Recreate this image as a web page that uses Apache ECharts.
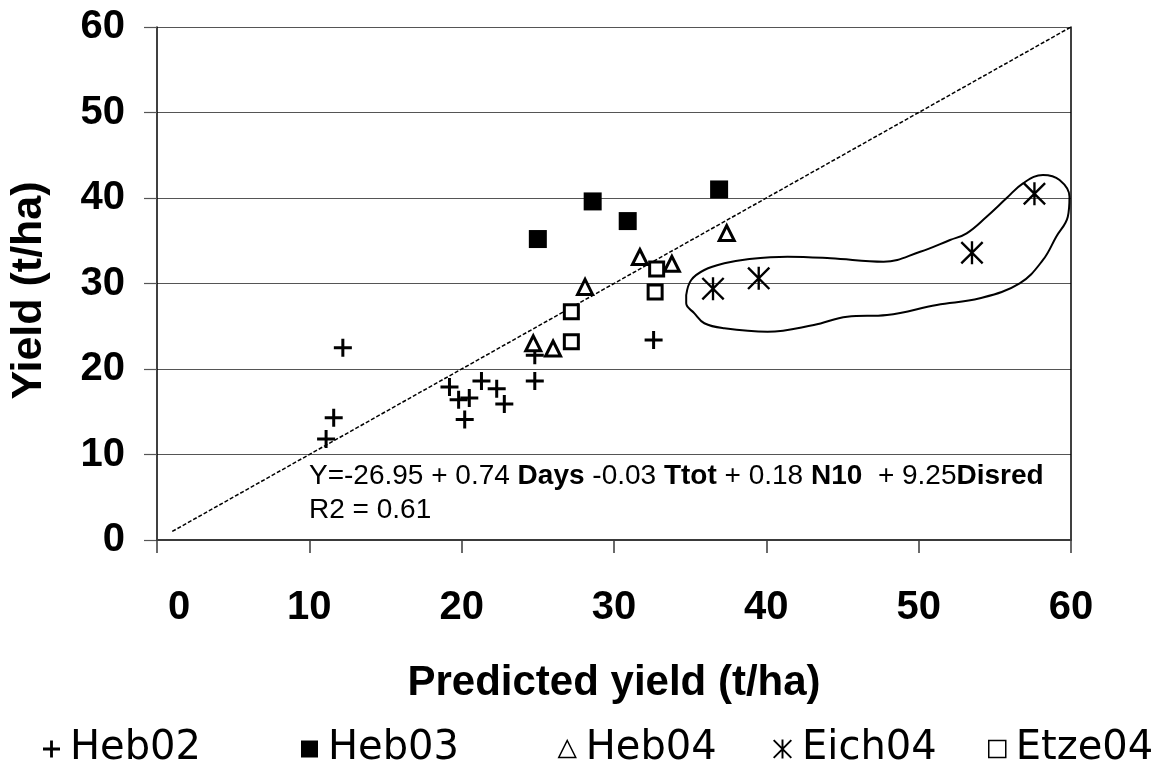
<!DOCTYPE html>
<html>
<head>
<meta charset="utf-8">
<style>
  html, body { margin: 0; padding: 0; background: #fff; }
  #chart { width: 1175px; height: 762px; }
</style>
<script src="https://cdn.jsdelivr.net/npm/echarts@6/dist/echarts.min.js"></script>
</head>
<body>
<div id="chart"></div>
<script>
// Observed vs predicted yield [predicted, observed] per site/year
const heb02 = [[12.2, 22.5], [11.6, 14.3], [11.1, 11.8], [19.2, 17.9], [19.8, 16.4], [20.5, 16.6],
               [20.2, 14.1], [21.3, 18.6], [22.3, 17.7], [22.8, 15.9], [24.8, 18.6], [24.8, 21.6], [32.6, 23.4]];
const heb03 = [[25.0, 35.2], [28.6, 39.6], [30.9, 37.3], [36.9, 41.0]];
const heb04 = [[24.7, 23.0], [26.0, 22.4], [28.1, 29.6], [31.7, 33.1], [33.8, 32.3], [37.4, 35.9]];
const eich04 = [[36.5, 29.4], [39.5, 30.6], [53.5, 33.6], [57.6, 40.5]];
const etze04 = [[27.2, 26.7], [27.2, 23.2], [32.8, 31.7], [32.7, 29.0]];

// 1:1 reference line
const oneToOne = [[1, 1], [60, 60]];

// Hand-drawn outline around the Eich04 group (data units)
const eichOutline = [
  [34.74, 28.65], [35.07, 30.41], [35.93, 31.58], [37.24, 32.36], [38.77, 32.83], [41.39, 33.13],
  [44.22, 32.95], [47.70, 32.55], [50.10, 33.72], [52.06, 35.09], [53.15, 35.87], [54.46, 37.81],
  [55.76, 39.96], [56.85, 41.72], [58.16, 42.69], [59.25, 42.11], [59.90, 40.15], [59.79, 37.81],
  [59.03, 35.47], [58.16, 32.75], [56.63, 30.02], [54.02, 28.27], [51.19, 27.49], [47.92, 26.32],
  [45.31, 26.12], [43.12, 25.15], [40.08, 24.36], [37.24, 24.76], [35.93, 25.35], [35.28, 26.51],
  [34.74, 27.68], [34.74, 28.65]
];

const axisTicks = [0, 10, 20, 30, 40, 50, 60];
const seriesNames = ['Heb02', 'Heb03', 'Heb04', 'Eich04', 'Etze04'];

const FONT = '"Liberation Sans", Arial, sans-serif';
const LEGEND_FONT = '"DejaVu Sans", "Liberation Sans", sans-serif';

const plusPath = 'path://M-1.5,-9L1.5,-9L1.5,-1.5L9,-1.5L9,1.5L1.5,1.5L1.5,9L-1.5,9L-1.5,1.5L-9,1.5L-9,-1.5L-1.5,-1.5Z';
const starPath = 'path://M-1.1,-10.78L1.1,-10.78L1.1,10.78L-1.1,10.78Z' +
  'M-9.22,-10.78L10.78,9.22L9.22,10.78L-10.78,-9.22Z' +
  'M-10.78,9.22L9.22,-10.78L10.78,-9.22L-9.22,10.78Z';

const solidStyle = { color: '#000', opacity: 1 };
const openStyle = { color: '#fff', borderColor: '#000', borderWidth: 3, opacity: 1 };

const legendLefts = [38, 296, 553, 768, 983];
const legendIcons = [plusPath, 'rect', 'triangle', starPath, 'rect'];
const legends = seriesNames.map((name, i) => ({
  left: legendLefts[i],
  top: 724,
  itemWidth: (i === 3) ? 19 : 17,
  itemHeight: (i === 3) ? 19 : 17,
  itemGap: 0,
  selectedMode: false,
  textStyle: { fontFamily: LEGEND_FONT, fontSize: 40, color: '#000', padding: [0, 0, 0, 5] },
  itemStyle: (i === 2 || i === 4)
    ? { color: '#fff', borderColor: '#000', borderWidth: 1.5, opacity: 1 }
    : { color: '#000', borderWidth: 0, opacity: 1 },
  data: [{ name: name, icon: legendIcons[i] }]
}));

const tickLabelStyle = { fontFamily: FONT, fontSize: 40, fontWeight: 'bold', color: '#000' };

const chart = echarts.init(document.getElementById('chart'), null, { renderer: 'canvas' });

chart.setOption({
  animation: false,
  backgroundColor: '#fff',
  textStyle: { fontFamily: FONT },
  grid: { left: 153.5, right: 104, top: 27, bottom: 222, containLabel: false },
  legend: legends,
  xAxis: {
    type: 'value', min: axisTicks[0], max: axisTicks[axisTicks.length - 1], interval: 10,
    name: 'Predicted yield (t/ha)', nameLocation: 'middle', nameGap: 122,
    nameTextStyle: { fontFamily: FONT, fontSize: 42, fontWeight: 'bold', color: '#000' },
    axisLine: { show: true, onZero: false, lineStyle: { color: '#3a3a3a', width: 2 } },
    axisTick: { show: true, inside: false, length: 13, lineStyle: { color: '#3a3a3a', width: 1.5 } },
    axisLabel: {
      margin: 48,
      formatter: v => (v === 0 ? '{z|0}' : String(v)),
      rich: { z: Object.assign({ padding: [0, 0, 0, 44] }, tickLabelStyle) },
      ...tickLabelStyle
    },
    splitLine: { show: false }
  },
  yAxis: [{
    type: 'value', min: axisTicks[0], max: axisTicks[axisTicks.length - 1], interval: 10,
    name: 'Yield (t/ha)', nameLocation: 'middle', nameGap: 106, nameRotate: 90,
    nameTextStyle: { fontFamily: FONT, fontSize: 43, fontWeight: 'bold', color: '#000', padding: [0, 14, 0, 0] },
    axisLine: { show: true, lineStyle: { color: '#000', width: 1.5 } },
    axisTick: { show: true, inside: false, length: 13, lineStyle: { color: '#555', width: 1.2 } },
    axisLabel: { margin: 32, ...tickLabelStyle },
    splitLine: { show: true, lineStyle: { color: '#555', width: 1.2 } }
  }, {
    type: 'value', min: 0, max: 60, position: 'right',
    axisLine: { show: true, lineStyle: { color: '#000', width: 1.5 } },
    axisTick: { show: false }, axisLabel: { show: false }, splitLine: { show: false }
  }],
  graphic: [{
    type: 'text',
    left: 309, top: 459,
    style: {
      text: 'Y=-26.95 + 0.74 {b|Days} -0.03 {b|Ttot} + 0.18 {b|N10}  + 9.25{b|Disred}\nR2 = 0.61',
      fontFamily: FONT, fontSize: 28, fill: '#000', lineHeight: 34,
      rich: { b: { fontFamily: FONT, fontSize: 28, fontWeight: 'bold', lineHeight: 34 } }
    },
    z: 10
  }],
  series: [
    {
      name: '1:1', type: 'line', data: oneToOne, symbol: 'none', silent: true,
      lineStyle: { color: '#000', width: 1.5, type: [4, 2] }, z: 1
    },
    {
      name: 'outline', type: 'line', data: eichOutline, symbol: 'none', smooth: 0.4, silent: true,
      lineStyle: { color: '#000', width: 2 }, z: 1
    },
    { name: 'Heb02', type: 'scatter', data: heb02, symbol: plusPath, symbolSize: 18, itemStyle: solidStyle, z: 3 },
    { name: 'Heb03', type: 'scatter', data: heb03, symbol: 'rect', symbolSize: 18, itemStyle: solidStyle, z: 3 },
    { name: 'Heb04', type: 'scatter', data: heb04, symbol: 'triangle', symbolSize: 15, itemStyle: openStyle, z: 3 },
    { name: 'Eich04', type: 'scatter', data: eich04, symbol: starPath, symbolSize: 23, itemStyle: solidStyle, z: 3 },
    { name: 'Etze04', type: 'scatter', data: etze04, symbol: 'rect', symbolSize: 14, itemStyle: openStyle, z: 3 }
  ]
});
</script>
</body>
</html>
